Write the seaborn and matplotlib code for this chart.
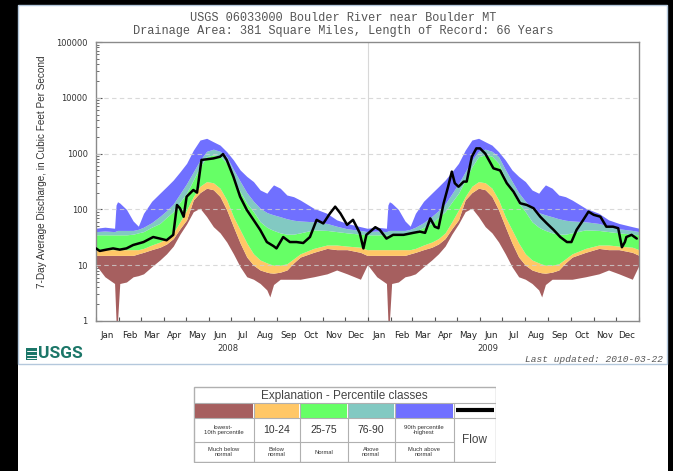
import pandas as pd
import seaborn as sns
import matplotlib.pyplot as plt
import matplotlib.dates as mdates
from matplotlib.patches import Rectangle
from matplotlib.lines import Line2D
from matplotlib.ticker import FixedLocator, FuncFormatter, LogLocator, NullFormatter

# --- daily percentile statistics, read by day of year (same for every year) ---
stat_doy = [0, 12, 25, 27, 29, 32, 41, 50, 57, 64, 75, 86, 95, 104, 113, 122, 131, 140, 149, 158,
            167, 176, 185, 194, 203, 212, 221, 230, 234, 239, 248, 257, 266, 275, 293, 311, 324, 338, 356, 365]
pct_max = [46, 48, 46, 120, 137, 130, 100, 62, 50, 85, 140, 195, 255, 336, 470, 670, 1150, 1750, 1880, 1630,
           1420, 1080, 770, 510, 390, 315, 223, 195, 230, 275, 240, 181, 169, 147, 105, 85, 65, 56, 49, 46]
pct_90 = [40, 41, 40, 41, 42, 42, 42, 42, 44, 48, 58, 75, 95, 125, 190, 290, 470, 760, 1100, 1200,
          1100, 880, 520, 320, 200, 140, 105, 88, 84, 80, 74, 68, 64, 62, 60, 56, 50, 45, 42, 40]
pct_75 = [35, 35, 35, 35, 35, 35, 35, 36, 38, 40, 48, 56, 72, 91, 135, 195, 336, 580, 880, 950,
          900, 670, 360, 208, 129, 91, 60, 48, 45, 42, 38, 36, 36, 38, 43, 42, 40, 38, 36, 35]
pct_25 = [19, 19, 19, 19, 19, 19, 19, 19, 19, 20, 23, 26, 30, 38, 60, 98, 170, 260, 315, 300,
          240, 148, 74, 43, 25, 16, 12.4, 11, 10.5, 10, 10, 10.6, 13, 16, 20, 23, 23, 22, 21, 19]
pct_10 = [15, 15, 15, 15, 15, 15, 15, 15, 16, 17, 19, 21, 24, 30, 45, 65, 148, 200, 240, 225,
          170, 98, 49, 25, 14, 10, 8.2, 7.5, 7.3, 7.2, 7.5, 8.2, 11, 14, 17, 20, 19, 19, 17, 15]
pct_min = [10, 6.2, 4.7, 1, 1, 4.7, 5, 6.2, 6.5, 7, 9.4, 12.4, 16, 22, 36, 55, 91, 105, 74, 49,
           38, 26, 16, 9.4, 6.2, 5.6, 4.7, 3.6, 2.7, 4.5, 5.6, 5.6, 5.6, 5.6, 6.2, 7, 8.2, 7, 5.6, 10]

# --- 7-day flow, days counted from 2008-01-01 ---
flow_day = [0, 5, 14, 23, 32, 41, 50, 64, 77, 86, 95, 104, 109, 113, 118, 122, 131, 136, 142, 149,
            158, 167, 171, 176, 185, 194, 203, 212, 221, 230, 239, 243, 252, 261, 270, 279, 288, 297, 306, 315,
            322, 329, 338, 346, 355, 360, 364, 376, 382, 391, 400, 414, 427, 436, 443, 450, 456, 461, 468, 474,
            479, 483, 488, 495, 499, 506, 512, 517, 524, 530, 535, 544, 553, 562, 571, 580, 589, 598, 607, 616,
            625, 634, 640, 647, 656, 663, 670, 679, 687, 696, 703, 708, 712, 714, 721, 728]
flow_cfs = [20, 18, 19, 20, 19, 20, 23, 26, 32, 30, 28, 35, 120, 105, 74, 169, 223, 200, 770, 790,
            820, 880, 980, 770, 385, 169, 98, 65, 43, 26, 22, 20, 32, 26, 26, 25, 32, 65, 56, 85,
            112, 85, 53, 65, 38, 20, 35, 48, 43, 30, 35, 35, 38, 40, 38, 69, 49, 46, 129, 255,
            475, 295, 255, 315, 315, 880, 1240, 1240, 1000, 720, 545, 500, 295, 208, 129, 120, 105, 74, 56, 43,
            32, 26, 26, 43, 65, 91, 80, 74, 49, 49, 46, 21, 26, 32, 35, 30]

years = [2008, 2009]
y_ticks = [1, 10, 100, 1000, 10000, 100000]
class_labels = ['lowest-\n10th percentile', '10-24', '25-75', '76-90', '90th percentile\n-highest']
class_words = ['Much below\nnormal', 'Below\nnormal', 'Normal', 'Above\nnormal', 'Much above\nnormal']
class_colors = ['#a65f5f', '#ffc766', '#66ff66', '#82c9c2', '#7070ff']

W, H = 673, 471

# build the tables
rows = []
for yr in years:
    start = pd.Timestamp(f'{yr}-01-01')
    for i, d in enumerate(stat_doy):
        rows.append({'date': start + pd.Timedelta(days=d), 'min': pct_min[i], 'p10': pct_10[i],
                     'p25': pct_25[i], 'p75': pct_75[i], 'p90': pct_90[i], 'max': pct_max[i]})
stats = pd.DataFrame(rows)
flow = pd.DataFrame({'date': pd.Timestamp('2008-01-01') + pd.to_timedelta(flow_day, unit='D'),
                     'cfs': flow_cfs})

sns.set_theme(style="white")
plt.rcParams['font.family'] = ['DejaVu Sans']

fig = plt.figure(figsize=(W / 100, H / 100), dpi=100, facecolor='black')
fig.patches.append(Rectangle((18 / W, 0), 650 / W, 466 / H, transform=fig.transFigure,
                             facecolor='white', edgecolor='none', zorder=-10))
fig.patches.append(Rectangle((18 / W, 107 / H), 649 / W, 359 / H, transform=fig.transFigure,
                             facecolor='none', edgecolor='#b4c8dc', lw=1, zorder=-9))

ax = fig.add_axes([96 / W, 150 / H, 543 / W, 279 / H])
ax.set_zorder(2)
ax.set_yscale('log')

bands = [('min', 'p10'), ('p10', 'p25'), ('p25', 'p75'), ('p75', 'p90'), ('p90', 'max')]
for (lo, hi), c in zip(bands, class_colors):
    ax.fill_between(stats['date'], stats[lo], stats[hi], color=c, linewidth=0, zorder=1)

sns.lineplot(data=flow, x='date', y='cfs', color='black', linewidth=1.8, ax=ax, zorder=4)

ax.set_ylim(1, 100000)
ax.set_xlim(pd.Timestamp('2008-01-01'), pd.Timestamp('2010-01-01'))
ax.set_xlabel('')
ax.set_ylabel('')

for v in y_ticks[1:-1]:
    ax.axhline(v, color='#d0d0d0', lw=0.8, ls=(0, (4, 3)), alpha=0.8, zorder=3)
ax.axvline(pd.Timestamp('2009-01-01'), color='#d8d8d8', lw=0.8, zorder=0.5)

for s in ax.spines.values():
    s.set_color('#8a8a8a')
    s.set_linewidth(1)

ax.xaxis.set_major_locator(mdates.MonthLocator())
ax.xaxis.set_major_formatter(NullFormatter())
ax.xaxis.set_minor_locator(mdates.MonthLocator(bymonthday=16))
ax.xaxis.set_minor_formatter(mdates.DateFormatter('%b'))
ax.tick_params(axis='x', which='major', direction='in', length=3, width=0.8, color='#555555', bottom=True)
ax.tick_params(axis='x', which='minor', length=0, pad=7, labelsize=6.3, labelcolor='#222222', bottom=True)

ax.yaxis.set_major_locator(FixedLocator(y_ticks))
ax.yaxis.set_major_formatter(FuncFormatter(lambda v, _: f'{v:g}'))
ax.yaxis.set_minor_locator(LogLocator(base=10, subs=range(2, 10)))
ax.yaxis.set_minor_formatter(NullFormatter())
ax.tick_params(axis='y', which='major', direction='in', length=4, width=0.8, color='#555555',
               left=True, pad=6, labelsize=6, labelcolor='#333333')
ax.tick_params(axis='y', which='minor', direction='in', length=2, width=0.6, color='#555555', left=True)

# year labels under the months
ax.text(mdates.date2num(pd.Timestamp('2008-06-27')), -0.097, '2008', transform=ax.get_xaxis_transform(),
        ha='center', va='center', fontsize=6, color='#333333')
ax.text(mdates.date2num(pd.Timestamp('2009-06-12')), -0.097, '2009', transform=ax.get_xaxis_transform(),
        ha='center', va='center', fontsize=6, color='#333333')

# titles and annotations
mono = ['Liberation Mono', 'DejaVu Sans Mono']
fig.text(343 / W, 1 - 18 / H, 'USGS 06033000 Boulder River near Boulder MT', family=mono,
         fontsize=8.6, ha='center', va='center', color='#555555')
fig.text(343 / W, 1 - 31 / H, 'Drainage Area: 381 Square Miles, Length of Record: 66 Years', family=mono,
         fontsize=8.6, ha='center', va='center', color='#555555')
fig.text(42 / W, 1 - 172 / H, '7-Day Average Discharge, in Cubic Feet Per Second', rotation=90,
         family=['Liberation Sans', 'DejaVu Sans'], fontsize=7.2, ha='center', va='center', color='#333333')
fig.text(663 / W, 1 - 360 / H, 'Last updated: 2010-03-22', family=mono, style='italic',
         fontsize=6.8, ha='right', va='center', color='#555555')

# USGS logo
logo_c = '#1b7668'
fig.patches.append(Rectangle((26 / W, 1 - 360 / H), 11 / W, 12 / H, transform=fig.transFigure,
                             facecolor=logo_c, edgecolor='none'))
for yy in (351, 354.5, 358):
    fig.lines.append(Line2D([27 / W, 36 / W], [1 - yy / H, 1 - yy / H], transform=fig.transFigure,
                            color='white', lw=0.7))
fig.text(38 / W, 1 - 354 / H, 'USGS', family=['Roboto', 'DejaVu Sans'], weight='bold',
         fontsize=12.5, ha='left', va='center', color=logo_c)

# explanation table
lax = fig.add_axes([193 / W, 1 - 463 / H, 303 / W, 77 / H])
lax.set_zorder(2)
lax.set_xlim(192.5, 495.5)
lax.set_ylim(463, 386)
lax.axis('off')
cols = [193, 253, 299, 347, 394, 453, 495]
edge = '#b0b0b0'
lax.add_patch(Rectangle((193, 387), 302, 75, facecolor='white', edgecolor=edge, lw=1))
lax.text(344, 395.5, 'Explanation - Percentile classes', ha='center', va='center',
         family=['Liberation Sans', 'DejaVu Sans'], fontsize=8.5, color='#444444')
lax.plot([193, 495], [403, 403], color=edge, lw=0.8)
lax.plot([193, 495], [418, 418], color=edge, lw=0.8)
lax.plot([193, 453], [442, 442], color=edge, lw=0.8)
for xc in cols[1:-1]:
    lax.plot([xc, xc], [403, 462], color=edge, lw=0.8)
for i, c in enumerate(class_colors):
    lax.add_patch(Rectangle((cols[i] + 1, 404), cols[i + 1] - cols[i] - 2, 13.5, facecolor=c,
                            edgecolor='none'))
    x_mid = (cols[i] + cols[i + 1]) / 2
    small = '\n' in class_labels[i]
    lax.text(x_mid, 430, class_labels[i], ha='center', va='center', linespacing=0.9,
             family=['Liberation Sans', 'DejaVu Sans'], fontsize=4.3 if small else 7.5, color='#333333')
    lax.text(x_mid, 452, class_words[i], ha='center', va='center', linespacing=0.9,
             family=['Liberation Sans', 'DejaVu Sans'], fontsize=4.2, color='#333333')
lax.plot([455, 493], [410, 410], color='black', lw=3, solid_capstyle='butt')
lax.text(474, 440, 'Flow', ha='center', va='center', family=['Liberation Sans', 'DejaVu Sans'],
         fontsize=8.5, color='#444444')

fig.savefig('out.png', dpi=100, facecolor=fig.get_facecolor())
